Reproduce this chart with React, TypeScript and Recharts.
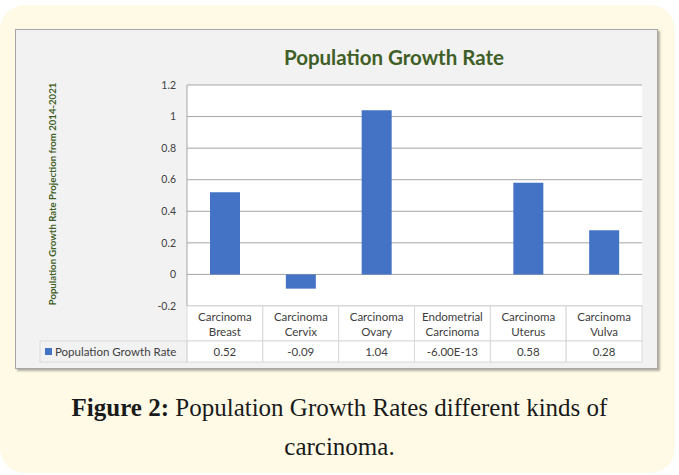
import { BarChart, Bar, XAxis, YAxis, CartesianGrid } from "recharts";

const categories = [
  "Carcinoma Breast",
  "Carcinoma Cervix",
  "Carcinoma Ovary",
  "Endometrial Carcinoma",
  "Carcinoma Uterus",
  "Carcinoma Vulva",
];
const growthRate = [0.52, -0.09, 1.04, -6.0e-13, 0.58, 0.28];
const yTicks = [-0.2, 0, 0.2, 0.4, 0.6, 0.8, 1, 1.2];

const seriesName = "Population Growth Rate";
const title = "Population Growth Rate";
const yTitle = "Population Growth Rate Projection from 2014-2021";

const data = categories.map((c, i) => ({ name: c, value: growthRate[i] }));

const CHART_W = 643;
const CHART_H = 340;
const MARGIN = { top: 56, right: 16, left: 0, bottom: 7 };
const Y_W = 172;
const PLOT_W = CHART_W - MARGIN.right - MARGIN.left - Y_W;
const HEAD_H = 35;
const ROW_H = 21;
const LEGEND_W = 147;

const GREEN = "#3f5f26";
const BLUE = "#4472c4";
const TEXT = "#404040";
const BORDER = "#d9d9d9";
const FONT = "Lato, 'Open Sans', sans-serif";

const fmtValue = (v: number) =>
  v !== 0 && Math.abs(v) < 1e-6 ? v.toExponential(2).toUpperCase() : String(v);

// the data table under the plot is drawn as the x-axis ticks
const TableTick = (props: any) => {
  const { x, y, payload } = props;
  const idx = payload.index;
  const bw = PLOT_W / categories.length;
  const x0 = x - bw / 2;
  const words = String(payload.value).split(" ");
  return (
    <g>
      <rect x={x0} y={y} width={bw} height={HEAD_H} fill="#fff" stroke={BORDER} />
      <rect x={x0} y={y + HEAD_H} width={bw} height={ROW_H} fill="#fff" stroke={BORDER} />
      <text x={x} y={y + 15} textAnchor="middle" fontSize={11.5} fill={TEXT} fontFamily={FONT}>
        {words[0]}
      </text>
      <text x={x} y={y + 30} textAnchor="middle" fontSize={11.5} fill={TEXT} fontFamily={FONT}>
        {words.slice(1).join(" ")}
      </text>
      <text x={x} y={y + HEAD_H + 15} textAnchor="middle" fontSize={11.5} fill={TEXT} fontFamily={FONT}>
        {fmtValue(growthRate[idx])}
      </text>
      {idx === 0 && (
        <g>
          <rect x={x0 - LEGEND_W} y={y + HEAD_H} width={LEGEND_W} height={ROW_H} fill="none" stroke={BORDER} />
          <rect x={x0 - LEGEND_W + 5} y={y + HEAD_H + 7} width={7} height={7} fill={BLUE} />
          <text x={x0 - LEGEND_W + 15} y={y + HEAD_H + 15} fontSize={11.5} fill={TEXT} fontFamily={FONT}>
            {seriesName}
          </text>
        </g>
      )}
    </g>
  );
};

export default function App() {
  return (
    <div style={{ position: "fixed", left: 0, top: 0, width: 679, height: 475, background: "#fff", overflow: "hidden" }}>
      <div style={{ position: "absolute", left: 0, top: 5, width: 675, height: 468, borderRadius: 25, background: "#fefae6" }} />
      <div
        style={{
          position: "absolute",
          left: 15,
          top: 29,
          width: CHART_W,
          height: CHART_H,
          boxSizing: "border-box",
          background: "#f2f2f2",
          border: "1px solid #a6a6a6",
          boxShadow: "2px 2px 2px rgba(0,0,0,0.3)",
        }}
      />
      <div style={{ position: "absolute", left: 15, top: 29 }}>
        <BarChart width={CHART_W} height={CHART_H} data={data} margin={MARGIN}>
          <CartesianGrid vertical={false} stroke="#a6a6a6" fill="#fff" />
          <XAxis
            dataKey="name"
            height={CHART_H - MARGIN.top - MARGIN.bottom - 221}
            axisLine={false}
            tickLine={false}
            tickSize={0}
            tickMargin={0}
            interval={0}
            tick={<TableTick />}
          />
          <YAxis
            width={Y_W}
            domain={[-0.2, 1.2]}
            ticks={yTicks}
            tickFormatter={(v: number) => String(Number(v.toFixed(1)))}
            axisLine={{ stroke: "#a6a6a6" }}
            tickLine={false}
            tickSize={0}
            tickMargin={11}
            tick={{ fontSize: 10.5, fill: TEXT, fontFamily: FONT }}
          />
          <Bar dataKey="value" name={seriesName} fill={BLUE} barSize={30} isAnimationActive={false} />
        </BarChart>
      </div>
      <div
        style={{
          position: "absolute",
          left: 394 - 200,
          top: 45,
          width: 400,
          textAlign: "center",
          fontFamily: FONT,
          fontWeight: 700,
          fontSize: 20.5,
          lineHeight: "24px",
          color: GREEN,
        }}
      >
        {title}
      </div>
      <div
        style={{
          position: "absolute",
          left: 53 - 150,
          top: 194 - 7,
          width: 300,
          height: 14,
          lineHeight: "14px",
          textAlign: "center",
          transform: "rotate(-90deg)",
          fontFamily: FONT,
          fontWeight: 700,
          fontSize: 9.6,
          color: GREEN,
          whiteSpace: "nowrap",
        }}
      >
        {yTitle}
      </div>
      <div
        style={{
          position: "absolute",
          left: 0,
          top: 388,
          width: 679,
          textAlign: "center",
          fontFamily: "'Liberation Serif', serif",
          fontSize: 25,
          lineHeight: "39px",
          color: "#1a1a1a",
        }}
      >
        <b>Figure 2:</b> Population Growth Rates different kinds of
        <br />
        carcinoma.
      </div>
    </div>
  );
}
